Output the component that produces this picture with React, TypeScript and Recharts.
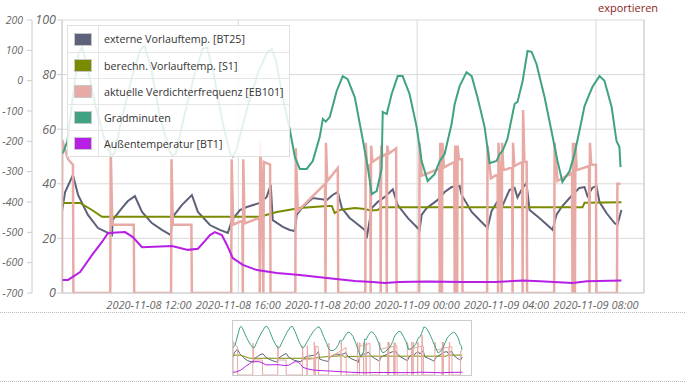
import React from 'react';
import { ComposedChart, Line, XAxis, YAxis, CartesianGrid, ReferenceLine } from 'recharts';

// time = hours since 2020-11-08 00:00
const timeDomain: [number, number] = [8.11, 34.15];
const timeTicks = [12, 16, 20, 24, 28, 32];
const timeTickLabels = [
  '2020-11-08 12:00',
  '2020-11-08 16:00',
  '2020-11-08 20:00',
  '2020-11-09 00:00',
  '2020-11-09 04:00',
  '2020-11-09 08:00',
];
const tempTicks = [0, 20, 40, 60, 80, 100];
const gradTicks = [200, 100, 0, -100, -200, -300, -400, -500, -600, -700];

const seriesNames = [
  'externe Vorlauftemp. [BT25]',
  'berechn. Vorlauftemp. [S1]',
  'aktuelle Verdichterfrequenz [EB101]',
  'Gradminuten',
  'Außentemperatur [BT1]',
];
const seriesColors = ['#5d6179', '#7b8b00', '#e8aaa5', '#3fa383', '#b71ee6'];

const externeVorlauf: [number, number][] = [
  [8.11, 30], [8.25, 37], [8.6, 43.2], [8.83, 35.9], [9.27, 28.6], [9.72, 23.8], [10.17, 22.0], [10.35, 21.2],
  [10.37, 26.7], [10.79, 31.1], [11.06, 33.7], [11.37, 35.5], [11.69, 29.7], [12.13, 25.6], [12.58, 23.1], [12.98, 21.2],
  [13.03, 27.5], [13.47, 32.2], [13.92, 35.9], [14.19, 29.7], [14.73, 24.9], [15.17, 23.1], [15.53, 22.0],
  [15.71, 26.7], [16.07, 30.4], [16.38, 31.5], [16.96, 33.0], [17.27, 35.2], [17.45, 39.6],
  [17.54, 26.7], [17.99, 24.2], [18.3, 23.1], [18.53, 22.7], [18.61, 28.6], [18.88, 31.5], [19.33, 34.8],
  [19.96, 34.1], [20.22, 35.9], [20.45, 37.0], [20.63, 31.1], [20.98, 27.5], [21.21, 26.0], [21.65, 23.1],
  [21.7, 22.3], [21.74, 20.0], [21.97, 31.1], [22.23, 33.3], [22.55, 35.2], [22.91, 38.0], [23.13, 32.2],
  [23.58, 27.5], [24.02, 23.8], [24.11, 23.1], [24.2, 28.6], [24.42, 31.1], [24.92, 34.1], [25.23, 37.0],
  [25.54, 38.8], [25.9, 39.2], [25.99, 35.9], [26.44, 29.7], [26.88, 26.0], [27.15, 23.8], [27.33, 30.0],
  [27.69, 34.8], [27.82, 32.0], [28.13, 37.7], [28.36, 38.5], [28.49, 35.0], [28.72, 38.5], [28.89, 40.3],
  [29.03, 30.4], [29.47, 27.5], [29.92, 24.2], [30.06, 23.1], [30.23, 28.6], [30.46, 31.5], [30.82, 34.8],
  [31.26, 38.5], [31.49, 38.8], [31.62, 35.5], [31.84, 38.5], [32.02, 39.2], [32.16, 33.3], [32.47, 29.3],
  [32.83, 25.6], [32.96, 24.9], [33.14, 30.4],
];

const berechnVorlauf: [number, number][] = [
  [8.11, 33.0], [8.92, 33.0], [9.45, 30.4], [9.9, 27.9], [16.96, 27.9], [17.72, 29.7], [18.75, 31.1],
  [19.96, 31.9], [20.18, 31.9], [20.31, 29.3], [20.54, 30.4], [21.21, 31.1], [21.65, 30.8], [21.9, 30.2],
  [22.23, 30.4], [22.41, 31.4], [31.4, 31.4], [31.49, 33.1], [33.14, 33.2],
];

const verdichterFrequenz: [number, number][] = [
  [8.11, 0], [8.12, 56], [8.38, 49], [8.6, 47], [8.62, 0],
  [10.27, 0], [10.29, 53], [10.36, 25], [11.32, 25], [11.34, 0],
  [12.99, 0], [13.01, 49], [13.07, 25], [13.9, 25], [13.92, 0],
  [15.68, 0], [15.7, 49], [15.77, 25], [16.18, 26.5], [16.2, 0], [16.22, 49], [16.28, 25.5], [16.94, 27.5],
  [16.96, 0], [16.98, 55], [17.05, 38], [17.12, 0], [17.14, 48], [17.42, 47], [17.44, 0],
  [18.55, 0], [18.57, 53], [18.66, 30], [19.88, 40], [19.9, 0], [19.92, 55], [19.98, 41], [20.45, 45.8], [20.47, 0],
  [21.68, 0], [21.7, 55], [21.76, 46], [21.9, 47], [21.92, 0], [21.94, 54], [22.0, 48], [22.35, 50], [22.37, 0],
  [22.39, 54], [22.45, 50], [22.62, 51], [22.64, 0], [22.66, 54], [22.72, 51], [23.06, 53], [23.08, 0],
  [24.09, 0], [24.11, 55], [24.2, 43], [24.99, 45.5], [25.01, 0], [25.03, 55], [25.09, 46], [25.11, 0],
  [25.13, 55], [25.2, 46], [25.66, 48], [25.68, 0], [25.7, 54], [25.76, 48.5], [25.79, 0], [25.81, 54],
  [25.87, 49], [26.01, 49], [26.03, 0],
  [27.13, 0], [27.15, 54], [27.3, 42], [27.6, 43.5], [27.62, 0], [27.64, 55], [27.7, 44], [27.78, 0],
  [27.8, 55], [27.86, 45], [28.25, 46], [28.27, 0], [28.29, 55], [28.35, 46.5], [28.7, 48], [28.72, 0],
  [28.74, 67], [28.8, 48], [28.9, 48], [28.92, 0],
  [30.13, 0], [30.15, 55], [30.28, 41], [30.93, 44], [30.95, 0], [30.97, 55], [31.03, 44.5], [31.06, 0],
  [31.08, 55], [31.14, 45], [31.69, 46.5], [31.71, 0], [31.73, 55], [31.79, 47], [32.0, 47], [32.02, 0],
  [32.94, 0], [32.96, 40], [33.1, 40],
];

const gradminuten: [number, number][] = [
  [8.11, -242], [8.2, -230], [8.35, -200], [8.6, -50], [8.85, 90], [9.0, 110], [9.2, 60], [9.6, -80],
  [10.0, -190], [10.3, -248], [10.45, -240], [10.8, -120], [11.2, 0], [11.6, 100], [11.8, 115], [12.1, 40],
  [12.5, -120], [12.9, -230], [13.05, -248], [13.2, -240], [13.6, -110], [14.0, 10], [14.4, 105], [14.6, 110],
  [14.9, 20], [15.3, -140], [15.65, -245], [15.75, -250], [15.9, -230], [16.4, -90], [16.9, 30], [17.3, 95],
  [17.5, 104], [17.7, 60], [18.0, -60], [18.3, -160], [18.53, -252], [18.75, -291], [19.06, -291],
  [19.33, -265], [19.64, -186], [19.78, -126], [19.91, -135], [20.09, -120], [20.4, -34], [20.67, 15],
  [20.89, 5], [21.21, -55], [21.52, -176], [21.79, -285], [21.97, -374], [22.19, -364], [22.41, -290],
  [22.46, -103], [22.64, -110], [22.86, -44], [23.13, 15], [23.35, 15], [23.66, -44], [23.98, -153],
  [24.2, -265], [24.47, -331], [24.78, -308], [25.01, -265], [25.23, -242], [25.54, -143], [25.68, -77],
  [25.9, -18], [26.21, 28], [26.44, 15], [26.7, -55], [27.02, -153], [27.24, -272], [27.55, -265],
  [27.69, -242], [27.82, -232], [28.04, -192], [28.36, -77], [28.49, -70], [28.72, -1], [28.94, 98],
  [29.12, 95], [29.34, 55], [29.7, -54], [30.01, -166], [30.28, -265], [30.5, -334], [30.82, -298],
  [31.04, -242], [31.26, -166], [31.49, -84], [31.62, -60], [31.84, -21], [32.16, 15], [32.38, 0],
  [32.7, -86], [32.92, -199], [33.05, -219], [33.1, -285],
];

const aussenTemp: [number, number][] = [
  [8.11, 4.8], [8.38, 4.8], [8.92, 7.7], [9.45, 13.9], [9.9, 18.7], [10.17, 22.0], [10.93, 22.3],
  [11.28, 20.5], [11.69, 16.8], [13.03, 17.2], [13.39, 16.5], [13.74, 15.8], [14.19, 16.2], [14.5, 19.0],
  [14.73, 21.2], [14.95, 22.3], [15.26, 21.2], [15.49, 17.6], [15.75, 12.8], [16.2, 10.3], [16.83, 8.4],
  [17.72, 7.3], [18.75, 6.6], [19.96, 5.5], [21.21, 4.4], [22.0, 4.0], [22.55, 3.7], [23.2, 4.0],
  [24.5, 4.2], [26.0, 4.0], [27.5, 4.0], [28.72, 4.6], [29.5, 4.3], [30.95, 3.7], [31.6, 4.3], [33.14, 4.6],
];

const seriesData = [externeVorlauf, berechnVorlauf, verdichterFrequenz, gradminuten, aussenTemp];
// "a" = inner temperature axis (0..100), "b" = outer Gradminuten axis (-700..200)
const seriesAxis = ['a', 'a', 'a', 'b', 'a'];

const toRows = (pts: [number, number][]) => pts.map(([h, v]) => ({ h, v }));
const fmtTime = (h: number) => {
  const i = timeTicks.indexOf(h);
  return i >= 0 ? timeTickLabels[i] : '';
};

const baseFont = { fontFamily: '"Open Sans", sans-serif', fontStyle: 'italic', fill: '#666' };
const xFont = { ...baseFont, fontSize: 11 };
const innerFont = { ...baseFont, fontSize: 12.5 };
const outerFont = { ...baseFont, fontSize: 10.5 };

export default function App() {
  return (
    <div style={{ position: 'absolute', left: 0, top: 0, width: 685, height: 391, background: '#fff', overflow: 'hidden' }}>
      <div style={{ position: 'absolute', left: 598, top: 1, fontFamily: '"Open Sans", sans-serif', fontSize: 11, lineHeight: '13px', color: '#8e1d1d' }}>
        exportieren
      </div>
      <div style={{ position: 'absolute', left: 0, top: 0 }}>
        <ComposedChart width={685} height={320} margin={{ top: 20, right: 41, bottom: 0, left: 7 }}>
          <CartesianGrid yAxisId="a" stroke="#d9d9d9" />
          <XAxis
            dataKey="h"
            type="number"
            domain={timeDomain}
            ticks={timeTicks}
            allowDataOverflow
            tickFormatter={fmtTime}
            tick={xFont}
            tickLine={false}
            axisLine={{ stroke: '#ccc' }}
            height={27}
          />
          <YAxis
            yAxisId="a"
            domain={[0, 100]}
            ticks={tempTicks}
            width={30}
            tickSize={5}
            tickMargin={1}
            tick={innerFont}
            stroke="#ccc"
            allowDataOverflow
          />
          <YAxis
            yAxisId="b"
            domain={[-700, 200]}
            ticks={gradTicks}
            width={25}
            tickSize={5}
            tickMargin={4}
            tick={outerFont}
            stroke="#ccc"
            allowDataOverflow
          />
          <ReferenceLine yAxisId="a" x={34.15} stroke="#ccc" />
          {seriesData.map((d, i) => (
            <Line
              key={seriesNames[i]}
              yAxisId={seriesAxis[i]}
              data={toRows(d)}
              dataKey="v"
              name={seriesNames[i]}
              stroke={seriesColors[i]}
              strokeWidth={i === 2 ? 2.5 : 2}
              dot={false}
              type="linear"
              isAnimationActive={false}
            />
          ))}
        </ComposedChart>
      </div>
      <div
        style={{
          position: 'absolute', left: 67, top: 25, width: 223, background: 'rgba(255,255,255,0.86)',
          border: '1px solid #e0e0e0', boxSizing: 'border-box', fontFamily: '"Open Sans", sans-serif', fontSize: 10.7, color: '#333',
        }}
      >
        {seriesNames.map((n, i) => (
          <div key={n} style={{ display: 'flex', height: 26, borderTop: i ? '1px solid #e6e6e6' : 'none', boxSizing: 'border-box', alignItems: 'center' }}>
            <div style={{ width: 30, flexShrink: 0, height: '100%', borderRight: '1px solid #e6e6e6', display: 'flex', alignItems: 'center', justifyContent: 'center' }}>
              <div style={{ width: 16, height: 11, background: seriesColors[i], border: '1px solid #c8c8c8' }} />
            </div>
            <div style={{ paddingLeft: 5, whiteSpace: 'nowrap' }}>{n}</div>
          </div>
        ))}
      </div>
      <div style={{ position: 'absolute', left: 0, top: 312, width: 685, borderTop: '1px dotted #bbb' }} />
      <div style={{ position: 'absolute', left: 0, top: 381, width: 685, borderTop: '1px dotted #bbb' }} />
      <div style={{ position: 'absolute', left: 232, top: 320, width: 240, height: 56, border: '1px solid #ccc', boxSizing: 'border-box' }} />
      <div style={{ position: 'absolute', left: 233, top: 321 }}>
        <ComposedChart width={239} height={54} margin={{ top: 0, right: 0, bottom: 0, left: 0 }}>
          <XAxis dataKey="h" type="number" domain={[8.11, 34.2]} hide />
          <YAxis yAxisId="a" domain={[0, 90]} hide />
          <YAxis yAxisId="b" domain={[-700, 200]} hide />
          {seriesData.map((d, i) => (
            <Line
              key={seriesNames[i]}
              yAxisId={seriesAxis[i]}
              data={toRows(d)}
              dataKey="v"
              stroke={seriesColors[i]}
              strokeWidth={1}
              dot={false}
              type="linear"
              isAnimationActive={false}
            />
          ))}
        </ComposedChart>
      </div>
    </div>
  );
}
